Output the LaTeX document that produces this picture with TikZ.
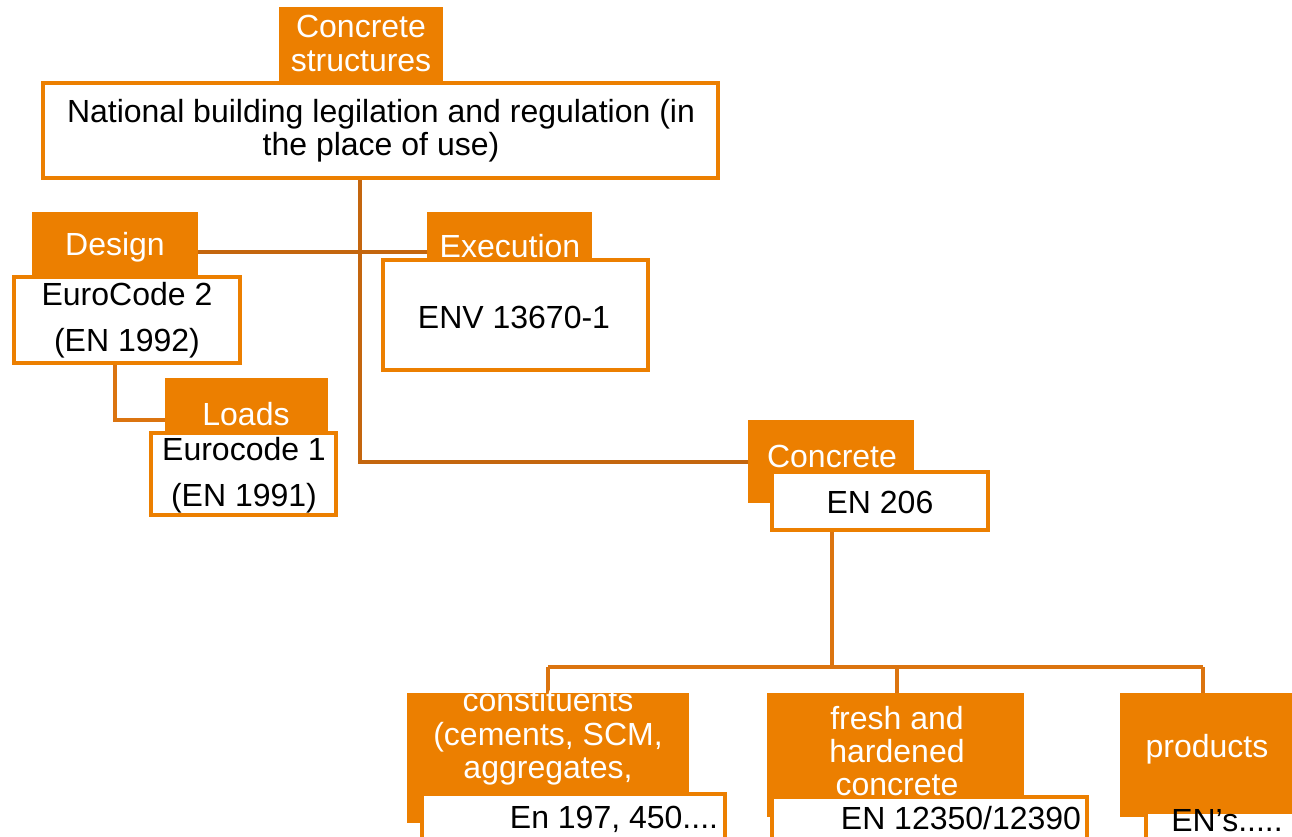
\documentclass[tikz,border=0pt]{standalone}
\usepackage{fontspec}
\setmainfont{Liberation Sans}
\definecolor{ofill}{HTML}{EC7F00}
\definecolor{oline}{HTML}{C4660E}
\definecolor{obus}{HTML}{DB7410}
\begin{document}
\begin{tikzpicture}[x=1pt,y=-1pt,
  obox/.style={fill=ofill, draw=none, inner sep=0pt, outer sep=0pt, anchor=north west},
  wbox/.style={fill=white, draw=ofill, line width=4pt, inner sep=0pt, outer sep=0pt, anchor=north west},
  wtext/.style={text=white, align=center, inner sep=0pt, font=\fontsize{32}{34}\selectfont},
  btext/.style={text=black, align=center, inner sep=0pt, font=\fontsize{32}{33}\selectfont},
  btextwide/.style={text=black, align=center, inner sep=0pt, font=\fontsize{32}{46}\selectfont},
  conn/.style={draw=oline, line width=4pt},
  busline/.style={draw=obus, line width=4pt}]
\clip (0,0) rectangle (1292,837);
\fill[white] (0,0) rectangle (1292,837);

% coordinates for connector bends
\coordinate (trunkx) at (360,0);
\coordinate (hy) at (0,252);
\coordinate (ecx) at (115,0);
\coordinate (ecy) at (0,420);
\coordinate (b0) at (832,667);
\coordinate (bl) at (548,667);
\coordinate (bm) at (897,667);
\coordinate (br) at (1203,667);

% orange heading boxes
\node[obox, minimum width=164pt, minimum height=76pt] (cs) at (279,7) {};
\node[obox, minimum width=166pt, minimum height=65pt] (design) at (32,212) {};
\node[obox, minimum width=163pt, minimum height=56pt] (loads) at (165,378) {};
\node[obox, minimum width=165pt, minimum height=48pt] (exec) at (427,212) {};
\node[obox, minimum width=166pt, minimum height=83pt] (conc) at (748,420) {};
\node[obox, minimum width=282pt, minimum height=130pt] (const) at (407,693) {};
\node[obox, minimum width=257pt, minimum height=124pt] (fresh) at (767,693) {};
\node[obox, minimum width=175pt, minimum height=124pt] (prod) at (1120,693) {};

% connectors (drawn below the white boxes)
\coordinate (natbot) at (360,178);
\draw[conn] (natbot) -- (trunkx |- conc.west) -- (conc.west);
\draw[conn] (design.east |- hy) -- (exec.west |- hy);
\draw[busline] (ecx |- 0,363) -- (ecx |- ecy) -- (loads.west |- ecy);
\draw[busline] (b0 |- 0,530) -- (b0);
\draw[busline] (bl) -- (br);
\draw[busline] (bl) -- (const.north -| bl);
\draw[busline] (bm) -- (fresh.north -| bm);
\draw[busline] (br) -- (prod.north -| br);

% white boxes with orange border
\node[wbox, minimum width=675pt, minimum height=95pt] (nat) at (43,83) {};
\node[wbox, minimum width=226pt, minimum height=86pt] (ec2) at (14,277) {};
\node[wbox, minimum width=185pt, minimum height=82pt] (ec1) at (151,433) {};
\node[wbox, minimum width=265pt, minimum height=110pt] (env) at (383,260) {};
\node[wbox, minimum width=216pt, minimum height=58pt] (en206) at (772,472) {};
\node[wbox, minimum width=303pt, minimum height=70pt] (en197) at (422,794) {};
\node[wbox, minimum width=315pt, minimum height=70pt] (en12) at (772,797) {};
\node[wbox, minimum width=170pt, minimum height=60pt] (ens) at (1146,812) {};

% texts
\node[wtext] (tcs) at (361,43) {Concrete\\structures};
\node[btext] (tnat) at (381,131) {National building legilation and regulation (in\\the place of use)};
\node[wtext] (tdesign) at (115,247) {Design};
\node[btextwide] (tec2) at (127,320) {EuroCode 2\\(EN 1992)};
\node[wtext] (tloads) at (246,414) {Loads};
\node[btextwide] (tec1) at (244,475) {Eurocode 1\\(EN 1991)};
\node[wtext] (texec) at (510,246) {Execution};
\node[btext] (tenv) at (514,317) {ENV 13670-1};
\node[wtext] (tconc) at (832,456) {Concrete};
\node[btext] (ten206) at (880,502) {EN 206};
\node[wtext, font=\fontsize{32}{33.5}\selectfont] (tconst) at (548,737) {constituents\\(cements, SCM,\\aggregates,};
\node[btext] (ten197) at (614,819) {En 197, 450....};
\node[wtext, font=\fontsize{32}{33}\selectfont] (tfresh) at (897,751) {fresh and\\hardened\\concrete};
\node[btext] (ten12) at (961,818) {EN 12350/12390};
\node[wtext] (tprod) at (1207,749) {products};
\node[btext] (tens) at (1227,821) {EN{\char"0027}s.....};
\end{tikzpicture}
\end{document}
